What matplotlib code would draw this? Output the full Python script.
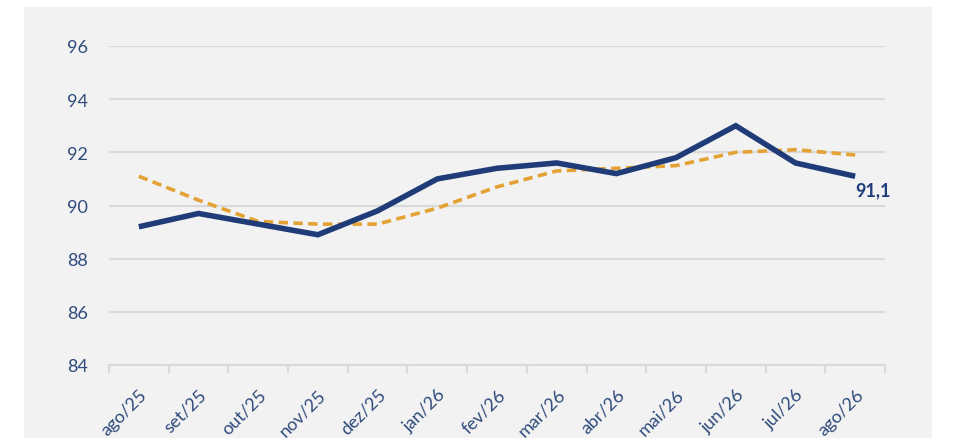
import numpy as np
import matplotlib
matplotlib.use('Agg')
import matplotlib.pyplot as plt
from matplotlib.patches import Rectangle

months = ['ago/25', 'set/25', 'out/25', 'nov/25', 'dez/25', 'jan/26', 'fev/26',
          'mar/26', 'abr/26', 'mai/26', 'jun/26', 'jul/26', 'ago/26']
index_values = [89.2, 89.7, 89.3, 88.9, 89.8, 91.0, 91.4, 91.6, 91.2, 91.8, 93.0, 91.6, 91.1]
trend_values = [91.1, 90.2, 89.4, 89.3, 89.3, 89.9, 90.7, 91.3, 91.4, 91.5, 92.0, 92.1, 91.9]
y_ticks = [84, 86, 88, 90, 92, 94, 96]
last_label = '91,1'

navy = '#1f3c78'
orange = '#e3a233'
label_color = '#2f4b7c'
grid_color = '#d9d9d9'
panel = '#f2f2f2'

plt.rcParams['font.family'] = ['Lato', 'DejaVu Sans']

fig = plt.figure(figsize=(9.71, 4.39), dpi=100)
# grey chart area, white margin around it
fig.patches.append(Rectangle((24 / 971, 0), (932 - 24) / 971, 1 - 8 / 439,
                             transform=fig.transFigure, facecolor=panel,
                             edgecolor='none', zorder=-5))
ax = fig.add_axes([109 / 971, 1 - 366 / 439, (885 - 109) / 971, (366 - 47) / 439])
ax.set_facecolor('none')

x = np.arange(len(months))
ax.plot(x, trend_values, color=orange, linewidth=2.6, linestyle=(0, (2.6, 1.5)),
        zorder=3)
ax.plot(x, index_values, color=navy, linewidth=4.0, solid_capstyle='butt',
        solid_joinstyle='miter', zorder=4)
ax.annotate(last_label, (x[-1], index_values[-1]), xytext=(0, -10),
            textcoords='offset points', color=navy, fontsize=13,
            fontweight='bold', ha='left', va='center')

ax.set_xlim(-0.5, len(months) - 0.5)
ax.set_ylim(84, 96)
ax.set_yticks(y_ticks)
ax.set_yticklabels([str(v) for v in y_ticks])
ax.set_xticks(x)
ax.set_xticklabels(months, rotation=45, ha='right', rotation_mode='anchor')
ax.set_xticks(np.arange(-0.5, len(months)), minor=True)

ax.tick_params(axis='y', length=0, pad=15, labelsize=13, labelcolor=label_color)
ax.tick_params(axis='x', which='major', length=0, pad=15, labelsize=13,
               labelcolor=label_color)
ax.tick_params(axis='x', which='minor', length=6, width=1.5, color=grid_color,
               direction='out')

ax.grid(axis='y', color=grid_color, linewidth=1.5)
ax.set_axisbelow(True)
for side in ['top', 'right', 'left']:
    ax.spines[side].set_visible(False)
ax.spines['bottom'].set_color(grid_color)
ax.spines['bottom'].set_linewidth(1.5)

plt.savefig('out.png', dpi=100)
